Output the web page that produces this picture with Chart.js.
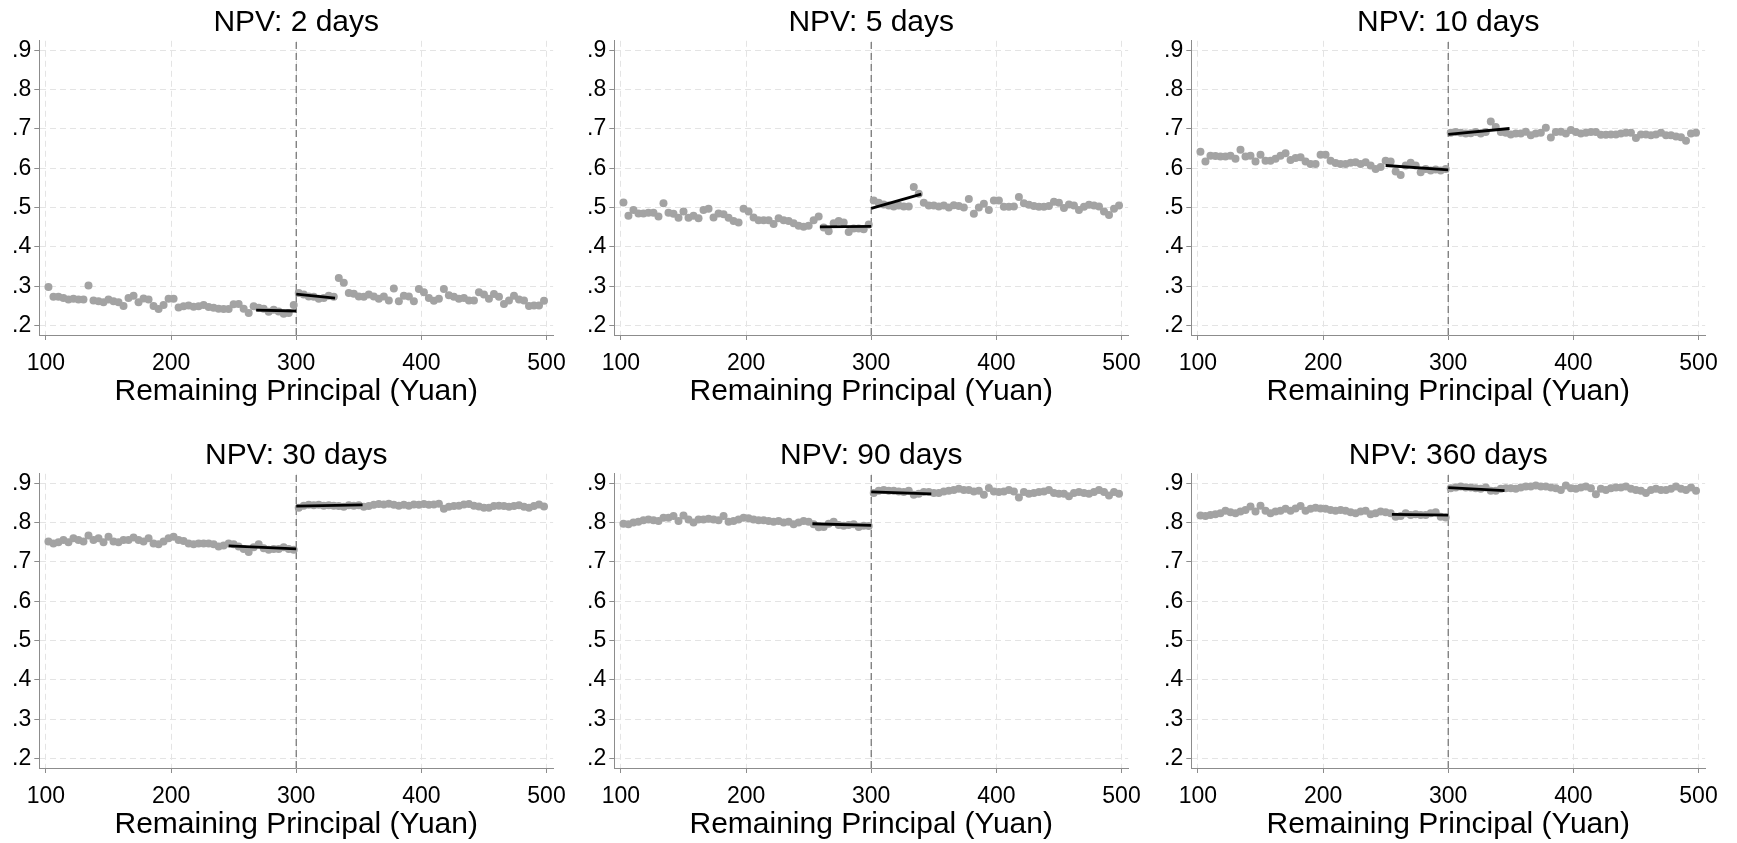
<!DOCTYPE html>
<html>
<head>
<meta charset="utf-8">
<script src="https://cdn.jsdelivr.net/npm/chart.js@4.4.0/dist/chart.umd.min.js"></script>
<style>
body { margin: 0; background: #fff; width: 1737px; height: 843px; overflow: hidden; position: relative; }
canvas { position: absolute; }
</style>
</head>
<body>
<canvas id="g_npv2" width="576" height="410" style="left:0px;top:0px"></canvas>
<canvas id="g_npv5" width="576" height="410" style="left:575px;top:0px"></canvas>
<canvas id="g_npv10" width="576" height="410" style="left:1152px;top:0px"></canvas>
<canvas id="g_npv30" width="576" height="410" style="left:0px;top:433px"></canvas>
<canvas id="g_npv90" width="576" height="410" style="left:575px;top:433px"></canvas>
<canvas id="g_npv360" width="576" height="410" style="left:1152px;top:433px"></canvas>
<script>
// bins of remaining principal (Yuan), left and right of the 300 cutoff
const binsLeft = [102, 106, 110, 114, 118, 122, 126, 130, 134, 138, 142, 146, 150, 154, 158, 162, 166, 170, 174, 178,
    182, 186, 190, 194, 198, 202, 206, 210, 214, 218, 222, 226, 230, 234, 238, 242, 246, 250, 254, 258,
    262, 266, 270, 274, 278, 282, 286, 290, 294, 298];
const binsRight = [302, 306, 310, 314, 318, 322, 326, 330, 334, 338, 342, 346, 350, 354, 358, 362, 366, 370, 374, 378,
    382, 386, 390, 394, 398, 402, 406, 410, 414, 418, 422, 426, 430, 434, 438, 442, 446, 450, 454, 458,
    462, 466, 470, 474, 478, 482, 486, 490, 494, 498];
const cutoff = 300;
const xTicks = [100, 200, 300, 400, 500];
const yTicks = [.2, .3, .4, .5, .6, .7, .8, .9];

// NPV 2 days
const npv2Left = [.298, .273, .273, .270, .266, .268, .266, .266, .302, .264,
    .262, .259, .266, .262, .259, .250, .270, .276, .259, .269,
    .266, .250, .242, .252, .268, .268, .246, .249, .251, .248,
    .249, .252, .247, .245, .243, .242, .242, .254, .255, .243,
    .232, .249, .245, .243, .235, .240, .236, .230, .232, .252];
const npv2Right = [.283, .279, .274, .273, .268, .270, .276, .273, .321, .309,
    .283, .281, .274, .273, .279, .274, .268, .274, .264, .294,
    .262, .276, .274, .262, .293, .285, .270, .263, .268, .293,
    .277, .273, .268, .270, .264, .264, .285, .279, .268, .280,
    .273, .255, .264, .276, .266, .264, .250, .251, .251, .263];
const npv2FitX = [268, 300, 300, 331];
const npv2FitY = [.239, .237, .280, .270];

// NPV 5 days
const npv5Left = [.513, .479, .494, .485, .485, .487, .487, .477, .511, .487,
    .484, .474, .490, .474, .479, .473, .494, .497, .475, .485,
    .483, .474, .466, .462, .497, .490, .475, .468, .468, .468,
    .458, .473, .468, .466, .460, .454, .451, .454, .468, .477,
    .449, .440, .460, .466, .462, .438, .447, .447, .445, .457];
const npv5Right = [.518, .512, .508, .505, .503, .505, .503, .503, .552, .535,
    .512, .505, .505, .503, .505, .500, .506, .504, .500, .522,
    .484, .500, .510, .494, .518, .518, .502, .502, .503, .527,
    .511, .507, .504, .502, .502, .504, .515, .512, .499, .508,
    .505, .494, .502, .507, .505, .503, .490, .481, .497, .505];
const npv5FitX = [259, 300, 300, 340];
const npv5FitY = [.451, .452, .498, .534];

// NPV 10 days
const npv10Left = [.642, .617, .632, .631, .630, .630, .632, .624, .647, .630,
    .632, .617, .634, .619, .619, .624, .632, .638, .621, .626,
    .628, .617, .611, .611, .634, .634, .619, .613, .611, .611,
    .614, .615, .611, .615, .607, .598, .603, .619, .617, .592,
    .583, .607, .614, .607, .590, .598, .594, .597, .594, .598];
const npv10Right = [.690, .692, .690, .688, .689, .692, .688, .692, .719, .705,
    .692, .690, .686, .688, .688, .693, .684, .688, .690, .703,
    .678, .692, .693, .688, .697, .692, .688, .690, .692, .692,
    .685, .685, .686, .686, .688, .690, .690, .677, .686, .686,
    .684, .686, .690, .684, .684, .681, .679, .670, .688, .690];
const npv10FitX = [250, 300, 300, 349];
const npv10FitY = [.607, .596, .686, .701];

// NPV 30 days
const npv30Left = [.752, .747, .750, .756, .750, .760, .756, .752, .767, .756,
    .760, .750, .764, .752, .750, .756, .756, .762, .756, .752,
    .760, .747, .745, .752, .760, .764, .756, .753, .747, .745,
    .747, .747, .747, .745, .739, .742, .747, .745, .739, .733,
    .725, .737, .745, .735, .731, .733, .733, .737, .733, .731];
const npv30Right = [.838, .843, .845, .844, .845, .843, .844, .843, .842, .840,
    .844, .843, .844, .840, .842, .845, .847, .846, .848, .845,
    .843, .845, .843, .846, .845, .847, .845, .846, .848, .835,
    .840, .842, .843, .846, .847, .843, .841, .838, .838, .842,
    .843, .842, .840, .842, .844, .840, .838, .842, .846, .841];
const npv30FitX = [246, 300, 300, 353];
const npv30FitY = [.741, .733, .842, .845];

// NPV 90 days
const npv90Left = [.797, .796, .800, .802, .806, .808, .806, .804, .812, .812,
    .817, .804, .818, .808, .800, .808, .808, .810, .808, .806,
    .817, .802, .804, .808, .812, .811, .808, .806, .806, .804,
    .802, .804, .800, .802, .796, .800, .804, .802, .796, .788,
    .789, .797, .802, .794, .792, .794, .796, .789, .792, .791];
const npv90Right = [.875, .881, .883, .881, .881, .879, .878, .881, .871, .873,
    .878, .878, .875, .875, .879, .881, .883, .886, .883, .883,
    .879, .881, .871, .888, .879, .878, .879, .883, .879, .864,
    .878, .873, .875, .878, .879, .883, .875, .873, .873, .867,
    .875, .878, .875, .873, .878, .883, .878, .869, .878, .873];
const npv90FitX = [253, 300, 300, 348];
const npv90FitY = [.797, .793, .878, .873];

// NPV 360 days
const npv360Left = [.818, .817, .819, .821, .824, .830, .826, .824, .828, .832,
    .841, .828, .843, .830, .824, .828, .830, .835, .830, .836,
    .842, .830, .835, .838, .836, .835, .832, .830, .832, .830,
    .826, .824, .828, .830, .821, .824, .828, .826, .824, .815,
    .817, .824, .819, .821, .819, .819, .824, .826, .815, .813];
const npv360Right = [.887, .889, .892, .889, .889, .887, .886, .889, .881, .881,
    .886, .887, .887, .886, .889, .892, .892, .894, .892, .892,
    .889, .887, .883, .894, .887, .886, .889, .892, .887, .872,
    .886, .883, .887, .889, .889, .892, .886, .883, .881, .875,
    .883, .886, .883, .883, .886, .892, .886, .883, .889, .881];
const npv360FitX = [255, 300, 300, 345];
const npv360FitY = [.821, .819, .889, .881];

const FONT = "'Liberation Sans', Arial, sans-serif";
const X_MIN = 94.7, X_MAX = 505.3;
const Y_MIN = .176, Y_MAX = .924;

function drawPanel(id, title, left, right, fitX, fitY) {
    const ctx = document.getElementById(id).getContext("2d");
    let points = binsLeft.map(function(x, i) { return {x: x, y: left[i]}; })
        .concat(binsRight.map(function(x, i) { return {x: x, y: right[i]}; }));
    let gridStyle = {color: '#e4e4e4', lineWidth: 1, tickColor: '#8c8c8c', tickLength: 5, tickWidth: 1};
    let borderStyle = {color: '#8c8c8c', width: 1, dash: [6, 4]};
    const config = {
        type: 'scatter',
        data: {
            datasets: [{
                // fit line below the cutoff
                type: 'line', order: 0,
                data: [{x: fitX[0], y: fitY[0]}, {x: fitX[1], y: fitY[1]}],
                borderColor: '#000', borderWidth: 2.8, pointRadius: 0
            }, {
                // fit line above the cutoff
                type: 'line', order: 0,
                data: [{x: fitX[2], y: fitY[2]}, {x: fitX[3], y: fitY[3]}],
                borderColor: '#000', borderWidth: 2.8, pointRadius: 0
            }, {
                order: 1,
                data: points,
                backgroundColor: '#a3a3a3', borderWidth: 0, pointRadius: 4
            }, {
                // dashed cutoff at 300
                type: 'line', order: 2,
                data: [{x: cutoff, y: Y_MIN}, {x: cutoff, y: Y_MAX}],
                borderColor: '#6e6e6e', borderWidth: 1.2, borderDash: [7, 4], pointRadius: 0
            }]
        },
        options: {
            responsive: false,
            animation: false,
            layout: {padding: {left: 0, right: 21.3, top: 0, bottom: 0}},
            plugins: {
                legend: {display: false},
                tooltip: {enabled: false},
                title: {
                    display: true, text: title, fullSize: false, color: '#000',
                    font: {family: FONT, size: 30, weight: 'normal', lineHeight: 1.15},
                    padding: {top: 5.5, bottom: 0.8}
                }
            },
            scales: {
                x: {
                    type: 'linear', min: X_MIN, max: X_MAX,
                    afterBuildTicks: function(s) { s.ticks = xTicks.map(function(v) { return {value: v}; }); },
                    afterFit: function(s) { s.height = 75; },
                    grid: gridStyle, border: borderStyle,
                    ticks: {font: {family: FONT, size: 23}, color: '#000', padding: 10, maxRotation: 0, autoSkip: false},
                    title: {
                        display: true, text: 'Remaining Principal (Yuan)', color: '#000',
                        font: {family: FONT, size: 30}, padding: {top: 0, bottom: 0}
                    }
                },
                y: {
                    min: Y_MIN, max: Y_MAX,
                    afterBuildTicks: function(s) { s.ticks = yTicks.map(function(v) { return {value: v}; }); },
                    afterFit: function(s) { s.width = 39.3; },
                    grid: gridStyle, border: borderStyle,
                    ticks: {
                        font: {family: FONT, size: 23}, color: '#000', padding: 3,
                        callback: function(v) { return v.toFixed(1).replace(/^0/, ''); }
                    }
                }
            }
        }
    };
    new Chart(ctx, config);
}

window.addEventListener('load', () => {
    drawPanel("g_npv2", "NPV: 2 days", npv2Left, npv2Right, npv2FitX, npv2FitY);
    drawPanel("g_npv5", "NPV: 5 days", npv5Left, npv5Right, npv5FitX, npv5FitY);
    drawPanel("g_npv10", "NPV: 10 days", npv10Left, npv10Right, npv10FitX, npv10FitY);
    drawPanel("g_npv30", "NPV: 30 days", npv30Left, npv30Right, npv30FitX, npv30FitY);
    drawPanel("g_npv90", "NPV: 90 days", npv90Left, npv90Right, npv90FitX, npv90FitY);
    drawPanel("g_npv360", "NPV: 360 days", npv360Left, npv360Right, npv360FitX, npv360FitY);
});
</script>
</body>
</html>
